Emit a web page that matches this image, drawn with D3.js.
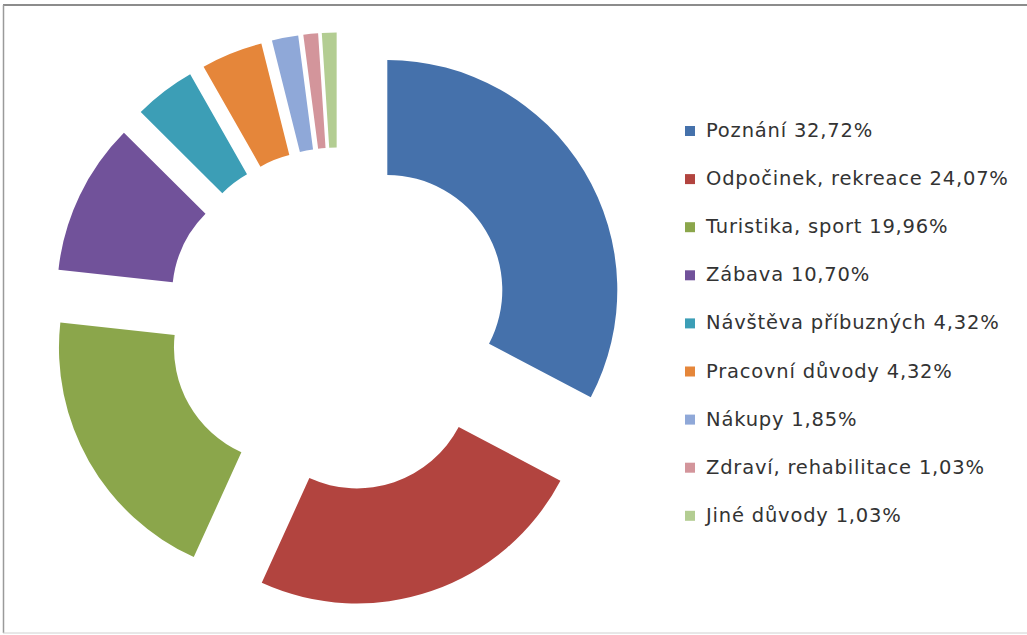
<!DOCTYPE html>
<html>
<head>
<meta charset="utf-8">
<script src="https://cdn.jsdelivr.net/npm/d3@7"></script>
<style>
  html, body { margin: 0; padding: 0; background: #ffffff; }
  svg { display: block; }
</style>
</head>
<body>
<svg id="chart" width="1027" height="635"></svg>
<script>
// Travel motives (share of respondents, %)
const categories = [
  "Poznání",
  "Odpočinek, rekreace",
  "Turistika, sport",
  "Zábava",
  "Návštěva příbuzných",
  "Pracovní důvody",
  "Nákupy",
  "Zdraví, rehabilitace",
  "Jiné důvody"
];
const values = [32.72, 24.07, 19.96, 10.70, 4.32, 4.32, 1.85, 1.03, 1.03];
const valueLabels = ["32,72%", "24,07%", "19,96%", "10,70%", "4,32%", "4,32%", "1,85%", "1,03%", "1,03%"];
const colors = ["#4571AB", "#B2443F", "#8BA64B", "#71529A", "#3C9EB6", "#E5863A", "#8FA8D8", "#D3959B", "#B3CD92"];

const svg = d3.select("#chart");

// frame
svg.append("line").attr("x1", 3).attr("x2", 1027).attr("y1", 5).attr("y2", 5)
  .attr("stroke", "#8c8c8c").attr("stroke-width", 2);
svg.append("line").attr("x1", 3.5).attr("x2", 3.5).attr("y1", 5).attr("y2", 633)
  .attr("stroke", "#9a9a9a").attr("stroke-width", 1.5);
svg.append("line").attr("x1", 3).attr("x2", 1027).attr("y1", 633).attr("y2", 633)
  .attr("stroke", "#d0d0d0").attr("stroke-width", 1);

// exploded doughnut
const cx = 338.5, cy = 319.5;
const outerR = 230, innerR = 115, explode = 57;

const pie = d3.pie().sort(null).value(d => d.value);
const arc = d3.arc().innerRadius(innerR).outerRadius(outerR);
const data = categories.map((c, i) => ({ name: c, value: values[i], color: colors[i] }));

const g = svg.append("g").attr("transform", `translate(${cx},${cy})`);
g.selectAll("path.slice")
  .data(pie(data))
  .join("path")
  .attr("class", "slice")
  .attr("d", arc)
  .attr("fill", d => d.data.color)
  .attr("transform", d => {
    const a = (d.startAngle + d.endAngle) / 2;
    return `translate(${explode * Math.sin(a)},${-explode * Math.cos(a)})`;
  });

// legend
const legendX = 685, legendY0 = 137, legendStep = 48.1;
const legend = svg.append("g").attr("class", "legend");
const rows = legend.selectAll("g.row")
  .data(data)
  .join("g")
  .attr("class", "row")
  .attr("transform", (d, i) => `translate(${legendX},${legendY0 + i * legendStep})`);
rows.append("rect")
  .attr("x", 0).attr("y", -11).attr("width", 10).attr("height", 10)
  .attr("fill", d => d.color);
rows.append("text")
  .attr("x", 21).attr("y", 0)
  .attr("font-family", "DejaVu Sans, Verdana, sans-serif")
  .attr("font-size", 19.5)
  .attr("letter-spacing", 0.8)
  .attr("fill", "#333333")
  .text((d, i) => `${d.name} ${valueLabels[i]}`);
</script>
</body>
</html>
